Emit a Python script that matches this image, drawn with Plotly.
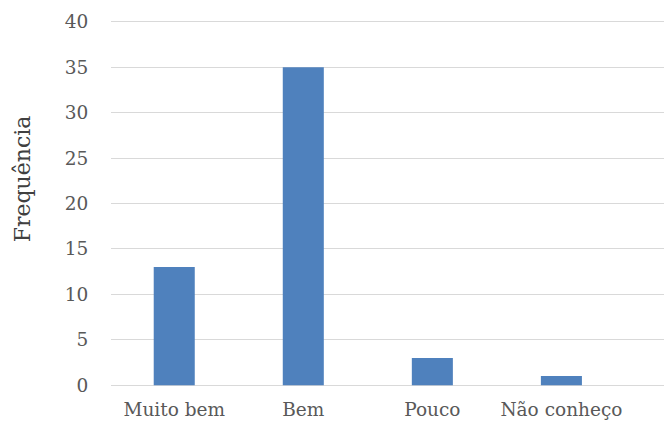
import plotly.graph_objects as go

categories = ["Muito bem", "Bem", "Pouco", "Não conheço"]
values = [13, 35, 3, 1]
y_ticks = [0, 5, 10, 15, 20, 25, 30, 35, 40]
y_title = "Frequência"

FONT = "DejaVu Serif"
GREY = "#595959"

fig = go.Figure(go.Bar(
    x=list(range(len(categories))),
    y=values,
    width=0.318,
    marker=dict(color="#4f81bd", line=dict(width=0)),
))

fig.update_layout(
    width=664, height=417,
    margin=dict(l=103, r=0, t=12, b=38, autoexpand=False),
    paper_bgcolor="white", plot_bgcolor="white",
    showlegend=False,
    font=dict(family=FONT, size=18.5, color=GREY),
    xaxis=dict(
        range=[-0.49, 3.857],
        tickmode="array",
        tickvals=list(range(len(categories))),
        ticktext=categories,
        showgrid=False, zeroline=False, showline=False,
        ticks="outside", ticklen=6, tickcolor="rgba(0,0,0,0)",
        tickfont=dict(family=FONT, size=18.5, color=GREY),
    ),
    yaxis=dict(
        range=[-0.2, 40.2],
        tickmode="array",
        tickvals=y_ticks,
        showgrid=True, gridcolor="#d9d9d9", gridwidth=1.3,
        zeroline=False, showline=False,
        ticks="outside", ticklen=18, tickcolor="rgba(0,0,0,0)",
        tickfont=dict(family=FONT, size=18.5, color=GREY),
    ),
    annotations=[dict(
        text=y_title, textangle=-90,
        xref="paper", yref="paper",
        x=-0.1586, y=0.566,
        xanchor="center", yanchor="middle",
        showarrow=False,
        font=dict(family=FONT, size=22, color="#404040"),
    )],
)

fig.write_html("out.html")
